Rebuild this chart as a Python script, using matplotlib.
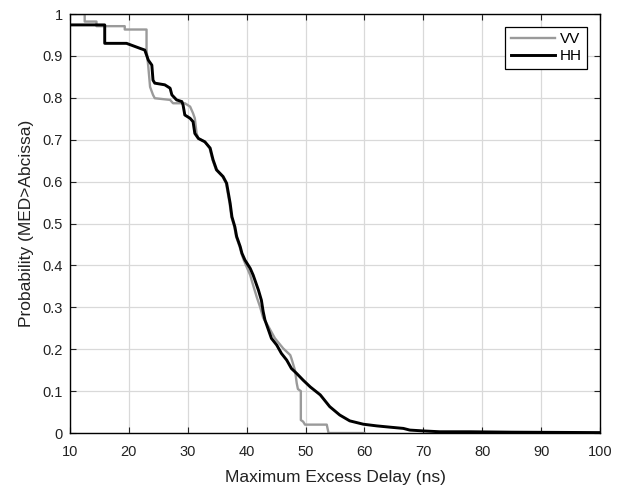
import matplotlib.pyplot as plt
import numpy as np
from matplotlib.ticker import FuncFormatter

plt.rcParams['font.family'] = ['Liberation Sans', 'DejaVu Sans']

# HH (preto)
hh_x = [10, 15.9, 15.9, 19.6, 21.9, 22.7, 23.3, 23.9, 24.1, 24.4, 26.1, 27, 27.3, 28.1,
        29, 29.2, 29.5, 30.4, 30.9, 31.2, 31.8, 32.9, 33.8, 34.1, 34.3, 34.6, 34.9, 36,
        36.6, 36.9, 37.2, 37.5, 38, 38.3, 38.9, 39.2, 39.7, 40.6, 41.1, 41.4, 42, 42.5,
        42.8, 43.1, 43.7, 44.2, 45.1, 45.9, 46.8, 47.6, 48.5, 49.6, 50.8, 52.5, 54.1,
        55.8, 57.5, 59.8, 62.1, 64.3, 66.6, 67.7, 70, 72.8, 77.9, 85, 100]
hh_y = [0.974, 0.974, 0.93, 0.93, 0.918, 0.914, 0.89, 0.878, 0.842, 0.835, 0.831, 0.823,
        0.807, 0.795, 0.791, 0.783, 0.759, 0.751, 0.743, 0.715, 0.703, 0.695, 0.68, 0.663,
        0.652, 0.64, 0.628, 0.612, 0.596, 0.572, 0.548, 0.516, 0.492, 0.469, 0.445, 0.429,
        0.413, 0.393, 0.377, 0.365, 0.341, 0.317, 0.29, 0.27, 0.246, 0.226, 0.21, 0.19,
        0.174, 0.154, 0.142, 0.126, 0.11, 0.091, 0.063, 0.043, 0.029, 0.021, 0.017, 0.014,
        0.011, 0.007, 0.005, 0.003, 0.003, 0.002, 0.001]

# VV (cinza)
vv_x = [10, 12.5, 12.5, 14.5, 14.5, 19.3, 19.3, 23.0, 23.0, 23.3, 23.6, 24.1, 24.4, 27,
        27.5, 29.5, 30.4, 30.9, 31.2, 31.5, 31.8, 32.9, 33.7, 34.0, 34.2, 34.5, 34.8,
        35.9, 36.5, 36.8, 37.1, 37.4, 37.9, 38.2, 38.8, 39.1, 39.5, 40.1, 40.6, 40.9,
        41.7, 42.3, 42.8, 43.7, 44.8, 46.2, 47.4, 47.6, 48.2, 48.5, 48.7, 49.2, 49.2,
        49.6, 49.9, 53.6, 53.9, 60]
vv_y = [1.0, 1.0, 0.982, 0.982, 0.971, 0.971, 0.963, 0.963, 0.915, 0.874, 0.826, 0.807,
        0.799, 0.795, 0.787, 0.787, 0.779, 0.763, 0.751, 0.715, 0.703, 0.695, 0.68, 0.663,
        0.652, 0.64, 0.628, 0.612, 0.596, 0.572, 0.548, 0.516, 0.492, 0.469, 0.445, 0.429,
        0.413, 0.393, 0.377, 0.362, 0.325, 0.3, 0.275, 0.254, 0.226, 0.202, 0.186, 0.178,
        0.15, 0.119, 0.105, 0.1, 0.031, 0.027, 0.02, 0.02, 0.0, 0.0]

fig = plt.figure(figsize=(6.27, 4.9), dpi=100)
ax = fig.add_axes([0.1116, 0.1163, 0.8454, 0.8551])

ax.plot(vv_x, vv_y, color='#9a9a9a', lw=1.7, label='VV')
ax.plot(hh_x, hh_y, color='black', lw=2.1, label='HH')

ax.set_xlim(10, 100)
ax.set_ylim(0, 1)
ax.set_xticks(np.arange(10, 101, 10))
ax.set_yticks(np.arange(0, 1.01, 0.1))
ax.yaxis.set_major_formatter(FuncFormatter(lambda v, p: f"{v:g}"))
ax.grid(True, color='#d9d9d9', lw=0.9)
ax.set_axisbelow(True)
ax.tick_params(direction='in', top=True, right=True, labelsize=10.5, length=4,
               colors='#222222')
ax.tick_params(axis='x', pad=8.5)
ax.tick_params(axis='y', pad=5)
for s in ax.spines.values():
    s.set_linewidth(1.0)

ax.set_xlabel("Maximum Excess Delay (ns)", fontsize=12.5, labelpad=8, color='#222222')
ax.set_ylabel("Probability (MED>Abcissa)", fontsize=12.5, labelpad=6, color='#222222')

leg = ax.legend(loc='upper right', fancybox=False, edgecolor='black', framealpha=1,
                handlelength=2.9, fontsize=11, borderaxespad=0.85, handletextpad=0.3,
                labelspacing=0.2, borderpad=0.35)
leg.get_frame().set_linewidth(0.9)

plt.savefig("out.png", dpi=100)
